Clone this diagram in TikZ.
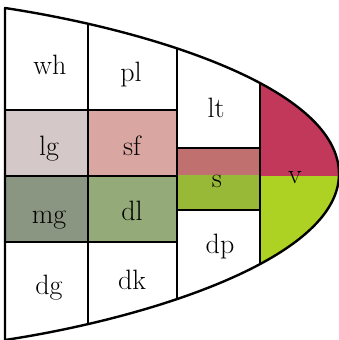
\documentclass[tikz,border=0pt]{standalone}
\usepackage{amsmath, amssymb}
\usepackage{tikz}
\usetikzlibrary{calc}

\definecolor{lgcol}{RGB}{213,200,200}
\definecolor{sfcol}{RGB}{218,166,162}
\definecolor{mgcol}{RGB}{139,150,130}
\definecolor{dlcol}{RGB}{148,170,120}
\definecolor{sredcol}{RGB}{193,112,112}
\definecolor{sgreencol}{RGB}{152,185,56}
\definecolor{vredcol}{RGB}{193,56,90}
\definecolor{vgreencol}{RGB}{174,210,36}

\begin{document}
\begin{tikzpicture}[x=1pt, y=-1pt, line width=2.4pt,
    lbl/.style={font=\fontsize{28}{32}\selectfont, inner sep=0pt, anchor=base}]
\useasboundingbox (0,0) rectangle (339,340);
\def\outline{(5,8) .. controls (150,30) and (339,88) .. (339,174)
    .. controls (339,258) and (150,318) .. (5,340) -- cycle}
\begin{scope}
\clip \outline;
\fill[lgcol] (5,110) rectangle (88,176);
\fill[sfcol] (88,110) rectangle (177,176);
\fill[mgcol] (5,176) rectangle (88,242);
\fill[dlcol] (88,176) rectangle (177,242);
\fill[sredcol] (177,148) rectangle (260,175);
\fill[sgreencol] (177,175) rectangle (260,210);
\fill[vredcol] (260,0) rectangle (345,176);
\fill[vgreencol] (260,176) rectangle (345,345);
\foreach \x in {88, 177, 260}
    \draw (\x,0) -- (\x,345);
\foreach \y in {110, 176, 242}
    \draw (5,\y) -- (177,\y);
\draw (177,148) -- (260,148);
\draw (177,210) -- (260,210);
\end{scope}
\draw[line join=round] \outline;
% labels, placed by their baselines
\foreach \name/\x/\y in {wh/50/74, pl/131/81, lt/216/117, lg/49/155,
    sf/132/155, s/217/187, v/295/183, mg/49/223, dl/132/220,
    dg/49/294, dk/132/289, dp/220/253}
    \node[lbl] (\name) at (\x,\y) {\name};
\end{tikzpicture}
\end{document}
